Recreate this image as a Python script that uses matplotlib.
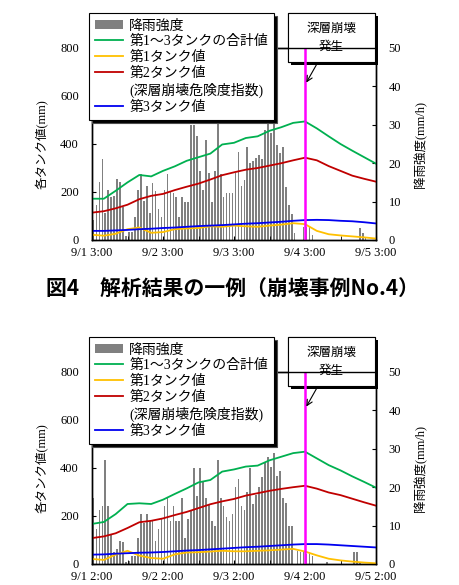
import numpy as np
import matplotlib
matplotlib.use("Agg")
from matplotlib import pyplot as plt
from matplotlib.patches import Patch, Rectangle
from matplotlib.lines import Line2D
import matplotlib.patheffects as pe

plt.rcParams['font.family'] = ['Liberation Serif', 'Noto Sans CJK JP']

# hourly rainfall (mm/h), 96 hours
rain_top = [5.2, 9.1, 15.2, 21, 7.1, 13, 11.1, 11.5, 16, 15.2,
            8.6, 1, 2.2, 2.2, 6.1, 13, 17.2, 10.2, 14.1, 7,
            14.9, 12.8, 8, 5.9, 13, 17.2, 12.8, 12.2, 11.1, 6.1,
            11.1, 10, 10, 30, 30, 27.1, 18, 13, 26, 17.5,
            10, 18, 31.2, 17.2, 11.1, 12.2, 12.2, 12.2,
            17.4, 23, 14.1, 15.6, 24.1, 20, 20.7, 21.3, 22.1, 21, 28.6, 31.7,
            27.8, 33, 24.7, 22.6, 24.3, 13.9, 9.1, 6.9, 1.8,
            0, 0, 3.3, 3.3, 3.5, 1.3,
            0, 0, 0, 0, 0, 0, 0, 0, 0, 0, 0, 0, 0, 0, 0,
            3, 1.9, 0.6, 0, 0, 0]
rain_bot = [17.2, 9.1, 14.1, 15.2, 27.1, 15.2, 7.8, 3.0, 3.9, 6.1,
            5.6, 0.4, 0.8, 2.2, 2.2, 6.9, 13, 10.6, 13, 11.1,
            11.1, 6.1, 9.1, 11.7, 15.2, 17.2, 11.1, 15.2, 11.1, 11.1,
            17.2, 6.9, 11.7, 14.1, 25, 17.8, 25, 21.7, 17.2, 15.6,
            11.1, 10, 27.1, 17.2, 15.2, 12.2, 11.1, 13,
            20, 22.1, 15.2, 14.1, 18.7, 25, 15.6, 18, 20, 22.6,
            26.5, 27.8, 25.2, 29, 23, 24.3, 17.2, 16, 10, 10,
            0, 3.5, 3.2, 3.5, 2.5, 3.2, 2,
            0, 0, 0, 0, 0.6, 0, 0, 0, 0, 0, 0, 0, 0,
            3.0, 3.0, 0.6, 0, 0, 0, 0, 0]

# tank values (mm), every 4 hours
line_hours = list(range(0, 97, 4))
total_top = [172, 172, 205, 240, 271, 265, 288, 307, 330, 345, 360, 398, 405,
             425, 432, 455, 470, 488, 494, 465, 432, 400, 372, 345, 318]
tank1_top = [22, 18, 26, 45, 52, 30, 33, 45, 48, 50, 57, 55, 60,
             57, 55, 60, 64, 70, 66, 38, 24, 19, 15, 11, 6]
tank2_top = [114, 120, 132, 147, 170, 184, 192, 208, 222, 235, 252, 270, 282,
             293, 300, 310, 320, 332, 343, 332, 308, 288, 268, 255, 243]
tank3_top = [38, 38, 40, 42, 45, 47, 50, 52, 55, 58, 60, 62, 65,
             68, 70, 73, 76, 80, 83, 84, 83, 80, 78, 74, 69]

total_bot = [167, 175, 208, 250, 253, 250, 268, 292, 315, 340, 350, 385, 394,
             406, 410, 432, 447, 462, 468, 440, 412, 390, 365, 342, 318]
tank1_bot = [21, 17, 39, 55, 35, 25, 22, 40, 48, 49, 52, 55, 53,
             53, 55, 57, 60, 63, 52, 36, 22, 15, 10, 6, 3]
tank2_bot = [108, 115, 128, 150, 174, 180, 190, 204, 217, 233, 249, 261, 271,
             285, 295, 305, 313, 320, 326, 314, 298, 287, 272, 257, 243]
tank3_bot = [39, 40, 43, 45, 47, 48, 50, 53, 56, 58, 61, 64, 67,
             70, 72, 75, 78, 81, 83, 83, 81, 78, 75, 72, 69]

labels_top = ["9/1 3:00", "9/2 3:00", "9/3 3:00", "9/4 3:00", "9/5 3:00"]
labels_bot = ["9/1 2:00", "9/2 2:00", "9/3 2:00", "9/4 2:00", "9/5 2:00"]
collapse_hour = 72

legend_labels = ["降雨強度", "第1～3タンクの合計値", "第1タンク値", "第2タンク値",
                 "(深層崩壊危険度指数)", "第3タンク値"]

W, H = 459, 585
C_GREEN, C_YEL, C_RED, C_BLUE = '#00B050', '#FFC000', '#C00000', '#0000F0'
BAR = '#808080'


def fx(px):
    return px / W


def fy(py):
    return 1 - py / H


fig = plt.figure(figsize=(W / 100, H / 100), dpi=100)


def draw_panel(top, rain, total, t1, t2, t3, xlabels):
    # top = pixel row of the axes top edge
    ax = fig.add_axes([fx(92), fy(top + 192), 284 / W, 192 / H])
    ax2 = ax.twinx()
    ax.set_zorder(ax2.get_zorder() + 1)
    ax.patch.set_visible(False)

    ax2.bar(np.arange(len(rain)) + 0.5, rain, width=0.55, color=BAR)
    ax.plot(line_hours, total, color=C_GREEN, lw=1.3)
    ax.plot(line_hours, t1, color=C_YEL, lw=1.3)
    ax.plot(line_hours, t2, color=C_RED, lw=1.3)
    ax.plot(line_hours, t3, color=C_BLUE, lw=1.3)
    ax.axvline(collapse_hour, color='#FF00FF', lw=1.8)

    ax.set_xlim(0, 96)
    ax.set_ylim(0, 800)
    ax2.set_ylim(0, 50)
    ax.set_xticks(range(0, 97, 24))
    ax.set_xticklabels(xlabels)
    ax.set_xticks(range(12, 97, 24), minor=True)
    ax.set_yticks(range(0, 801, 200))
    ax2.set_yticks(range(0, 51, 10))
    ax.tick_params(axis='x', which='both', direction='in', length=3, labelsize=9, pad=5)
    ax.tick_params(axis='y', direction='in', length=3, labelsize=9, pad=9.5)
    ax2.tick_params(axis='y', direction='in', length=3, labelsize=9, pad=9)
    for a in (ax, ax2):
        for s in a.spines.values():
            s.set_linewidth(1.0)
    ax.set_ylabel("各タンク値(mm)", fontsize=9, labelpad=8)
    ax2.set_ylabel("降雨強度(mm/h)", fontsize=9, labelpad=9)

    handles = [Patch(facecolor=BAR),
               Line2D([], [], color=C_GREEN, lw=1.3),
               Line2D([], [], color=C_YEL, lw=1.3),
               Line2D([], [], color=C_RED, lw=1.3),
               Line2D([], [], color='none'),
               Line2D([], [], color=C_BLUE, lw=1.3)]
    leg = fig.legend(handles, legend_labels, loc='upper left',
                     bbox_to_anchor=(fx(89), fy(top - 35)), borderaxespad=0,
                     fontsize=10, labelspacing=0.2, handlelength=2.0,
                     handletextpad=0.45, borderpad=0.45, fancybox=False,
                     framealpha=1, edgecolor='black',
                     shadow={'facecolor': 'black', 'alpha': 1})
    leg.get_frame().set_linewidth(0.8)

    # callout box
    box = Rectangle((fx(288), fy(top + 14)), 87 / W, 49 / H,
                    transform=fig.transFigure, facecolor='white',
                    edgecolor='black', lw=0.8,
                    path_effects=[pe.withSimplePatchShadow(offset=(2, -2), shadow_rgbFace='black', alpha=1),
                                  pe.Normal()])
    fig.add_artist(box)
    fig.text(fx(331.5), fy(top - 10.5), "深層崩壊\n発生", ha='center', va='center',
             fontsize=9, linespacing=1.5, family=['Noto Sans CJK JP'])
    ax.annotate('', xy=(collapse_hour, 646), xycoords='data',
                xytext=(fx(318), fy(top + 14)), textcoords='figure fraction',
                arrowprops=dict(arrowstyle='->', lw=0.8, color='black'))


draw_panel(48, rain_top, total_top, tank1_top, tank2_top, tank3_top, labels_top)
draw_panel(372, rain_bot, total_bot, tank1_bot, tank2_bot, tank3_bot, labels_bot)

fig.text(fx(232), fy(289), "図4　解析結果の一例（崩壊事例No.4）", ha='center', va='center',
         fontsize=15, weight='bold', family=['Noto Sans CJK JP'])

fig.savefig("out.png", dpi=100)
